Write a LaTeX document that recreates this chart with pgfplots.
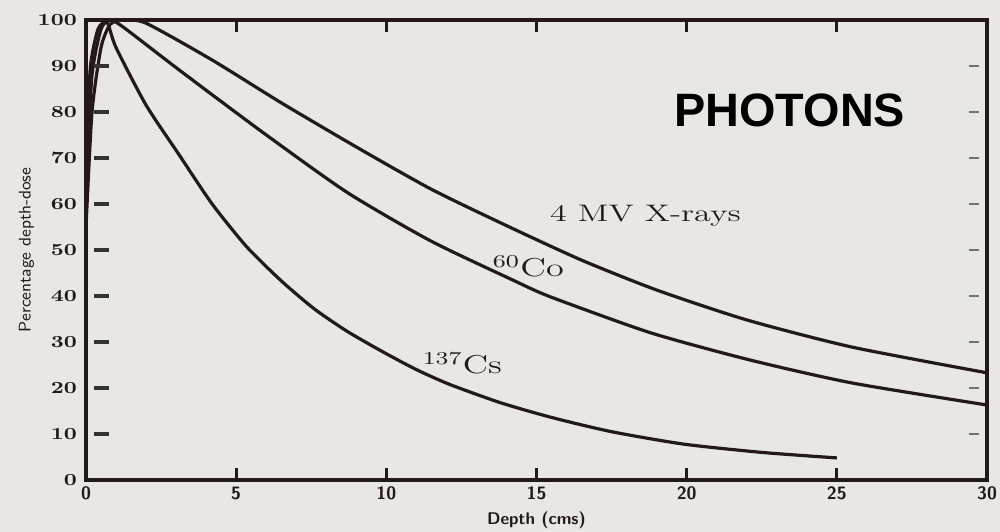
\documentclass[border=0pt]{standalone}
\usepackage{pgfplots}
\pgfplotsset{compat=1.18}
\usepackage{fontspec}
\newfontfamily\arialfont{Liberation Sans}
\definecolor{paper}{RGB}{233,231,227}
\definecolor{ink}{RGB}{35,25,25}
\begin{document}
\begin{tikzpicture}
\fill[paper] (-43bp,-26bp) rectangle (457bp,240bp);
% right-hand grey tick dashes
\begin{axis}[
  scale only axis, width=450.5bp, height=230bp,
  xmin=0, xmax=30, ymin=0, ymax=100,
  axis line style={draw=none},
  xtick=\empty, ytick={10,20,...,90}, yticklabels={},
  ytick pos=right, tick align=inside, major tick length=5bp,
  ytick style={black!55, line width=1.2bp, xshift=-4bp},
]
\end{axis}
\begin{axis}[
  scale only axis, width=450.5bp, height=230bp,
  xmin=0, xmax=30, ymin=0, ymax=100,
  axis line style={ink, line width=2bp},
  xtick={0,5,...,30}, ytick={0,10,...,100},
  ytick pos=left,
  tick align=inside,
  major tick length=6bp,
  xtick style={ink, line width=1.5bp},
  ytick style={draw=none},
  /pgf/number format/assume math mode=true,
  x tick label style={font=\sffamily\bfseries\fontsize{9}{10}\selectfont, text=ink},
  y tick label style={font=\bfseries\fontsize{8.5}{10}\selectfont, text=ink, xscale=1.3},
  xlabel={Depth (cms)},
  xlabel style={font=\sffamily\bfseries\fontsize{8.5}{10}\selectfont, text=ink, at={(axis description cs:0.5,-0.087)}, anchor=center},
  ylabel={Percentage depth-dose},
  ylabel style={font=\sffamily\fontsize{8.5}{10}\selectfont, text=ink, at={(axis description cs:-0.066,0.5)}, anchor=center},
]
\addplot[ink, line width=1.6bp, smooth, tension=0.4] coordinates {
(0,55) (0.2,80) (0.5,94) (0.8,99) (1.2,100) (2.0,99.3) (4.2,91.3) (6.5,82) (9,72.4) (11.5,63.2) (14,55.3) (16.5,47.8) (19,41.3) (22,34.8) (25.5,28.9) (30,23.3)};
\addplot[ink, line width=1.6bp, smooth, tension=0.4] coordinates {
(0,65) (0.2,88) (0.5,98) (0.8,100) (1.23,98.5) (3.13,89) (5.9,75.5) (8.7,62.5) (11.47,52) (14.2,43.5) (15.47,39.8) (18.8,32) (22.1,26.1) (25.5,21.1) (30,16.3)};
\addplot[ink, line width=1.6bp, smooth, tension=0.4] coordinates {
(0,72) (0.15,90) (0.4,98) (0.7,99.5) (1.0,94) (2.0,81.5) (3.1,70.7) (4.2,60) (5.35,50.7) (6.5,43.3) (7.6,37.2) (8.7,32.3) (9.9,27.8) (11,24) (12.1,20.8) (13.8,16.8) (15.5,13.6) (17.5,10.5) (19.9,7.8) (22.5,6.0) (25,4.8)};
\node[font=\fontsize{12}{14}\selectfont, text=ink, xscale=1.43] at (axis cs:18.63,57.4) {4 MV X-rays};
\node[font=\fontsize{13}{15}\selectfont, text=ink, xscale=1.4] at (axis cs:14.73,46.5) {\textsuperscript{60}Co};
\node[font=\fontsize{13}{15}\selectfont, text=ink, xscale=1.38] at (axis cs:12.53,25.4) {\textsuperscript{137}Cs};
\node[font=\arialfont\bfseries\fontsize{23.5}{26}\selectfont, text=black] at (axis cs:23.43,80.4) {PHOTONS};
\draw[black!80, line width=1.6bp] (axis cs:0.25,10) -- (axis cs:0.75,10);
\draw[black!80, line width=1.6bp] (axis cs:0.25,20) -- (axis cs:0.75,20);
\draw[black!80, line width=1.6bp] (axis cs:0.25,30) -- (axis cs:0.75,30);
\draw[black!80, line width=1.6bp] (axis cs:0.25,40) -- (axis cs:0.75,40);
\draw[black!80, line width=1.6bp] (axis cs:0.25,50) -- (axis cs:0.75,50);
\draw[black!80, line width=1.6bp] (axis cs:0.25,60) -- (axis cs:0.75,60);
\draw[black!80, line width=1.6bp] (axis cs:0.25,70) -- (axis cs:0.75,70);
\draw[black!80, line width=1.6bp] (axis cs:0.25,80) -- (axis cs:0.75,80);
\draw[black!80, line width=1.6bp] (axis cs:0.25,90) -- (axis cs:0.75,90);
\end{axis}
\pgfresetboundingbox
\path[use as bounding box] (-43bp,-26bp) rectangle (457bp,240bp);
\end{tikzpicture}
\end{document}
